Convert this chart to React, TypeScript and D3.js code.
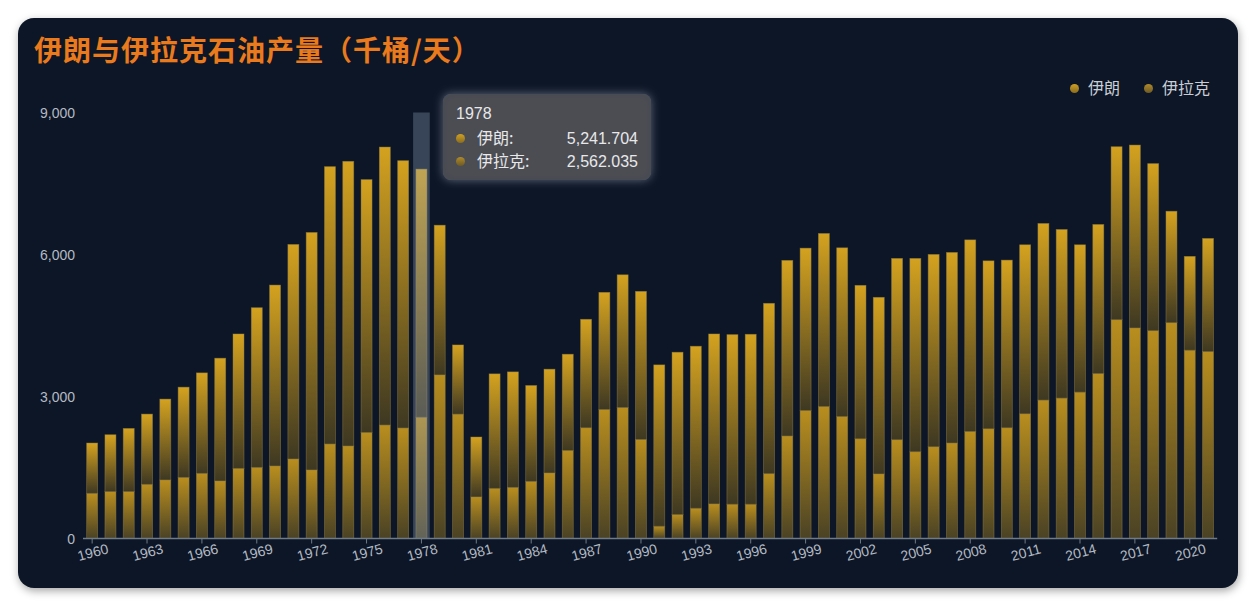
import * as d3 from "d3";

// 1960 - 2021
const years = d3.range(1960, 2022).map(String);

const iran = [
  1062, 1201, 1334, 1483, 1708, 1905, 2122, 2593, 2839, 3373,
  3822, 4532, 5017, 5860, 6014, 5341, 5873, 5648, 5241.704, 3162,
  1461, 1265, 2418, 2439, 2024, 2192, 2032, 2291, 2474, 2803,
  3128, 3409, 3429, 3423, 3590, 3583, 3590, 3598, 3710, 3429,
  3655, 3563, 3240, 3731, 3830, 4083, 4062, 4026, 4047, 3547,
  3541, 3570, 3731, 3562, 3113, 3149, 3654, 3864, 3529, 2354,
  1982, 2390,
];

const iraq = [
  955, 991, 991, 1145, 1237, 1292, 1377, 1216, 1482, 1503,
  1532, 1680, 1448, 1996, 1954, 2241, 2397, 2334, 2562.035, 3457,
  2628, 879, 1060, 1081, 1208, 1385, 1861, 2340, 2726, 2768,
  2093, 259, 506, 639, 731, 724, 724, 1370, 2165, 2705,
  2789, 2578, 2108, 1364, 2087, 1834, 1939, 2017, 2262, 2319,
  2340, 2635, 2924, 2966, 3092, 3485, 4623, 4448, 4391, 4560,
  3978, 3949,
];

const tickYears = [
  "1960", "1963", "1966", "1969", "1972", "1975", "1978", "1981", "1984",
  "1987", "1990", "1993", "1996", "1999", "2002", "2005", "2008", "2011",
  "2014", "2017", "2020",
];
const yTicks = [0, 3000, 6000, 9000];
const seriesNames = ["伊朗", "伊拉克"];
const hoverYear = "1978";

const W = 1256;
const H = 606;
const latin = "'Liberation Sans', Arial, 'Noto Sans CJK SC', sans-serif";
const cjk = "'Noto Sans CJK SC', 'Liberation Sans', sans-serif";

export default function App() {
  const x = d3
    .scaleBand<string>()
    .domain(years)
    .range([83, 1217.2])
    .paddingInner(0.4)
    .paddingOuter(0.2);
  const y = d3.scaleLinear().domain([0, 9000]).range([538.5, 112.5]);

  const rows = years.map((yr, i) => ({ year: yr, iraq: iraq[i], iran: iran[i] }));
  const stacked = d3.stack<(typeof rows)[number]>().keys(["iraq", "iran"])(rows);
  const grad: Record<string, string> = { iraq: "url(#gIraq)", iran: "url(#gIran)" };

  const fmt = d3.format(",.3f");
  const hi = years.indexOf(hoverYear);
  const hx = x(hoverYear)! + x.bandwidth() / 2;
  const step = x.step();

  return (
    <svg
      width={W}
      height={H}
      style={{ position: "absolute", left: 0, top: 0, display: "block" }}
    >
      <defs>
        <linearGradient id="gIran" x1="0" y1="0" x2="0" y2="1">
          <stop offset="0" stopColor="#d4a21f" />
          <stop offset="1" stopColor="#3e3822" />
        </linearGradient>
        <linearGradient id="gIraq" x1="0" y1="0" x2="0" y2="1">
          <stop offset="0" stopColor="#b98e1e" />
          <stop offset="1" stopColor="#4a4225" />
        </linearGradient>
        <linearGradient id="gDot1" x1="0" y1="0" x2="0" y2="1">
          <stop offset="0" stopColor="#d0a024" />
          <stop offset="1" stopColor="#8a6c1e" />
        </linearGradient>
        <linearGradient id="gDot2" x1="0" y1="0" x2="0" y2="1">
          <stop offset="0" stopColor="#b08a2a" />
          <stop offset="1" stopColor="#6d5a25" />
        </linearGradient>
        <filter id="cardShadow" x="-5%" y="-5%" width="110%" height="115%">
          <feDropShadow dx="1" dy="3" stdDeviation="4" floodColor="#000" floodOpacity="0.35" />
        </filter>
        <filter id="glow" x="-20%" y="-30%" width="140%" height="160%">
          <feDropShadow dx="0" dy="0" stdDeviation="5" floodColor="#c8d4e6" floodOpacity="0.45" />
        </filter>
      </defs>

      <rect x={0} y={0} width={W} height={H} fill="#ffffff" />
      <rect
        x={18}
        y={18}
        width={1220}
        height={570}
        rx={16}
        fill="#0b1826"
        filter="url(#cardShadow)"
      />

      <text
        x={34}
        y={61}
        fill="#ea7a1c"
        fontSize={28}
        fontWeight={600}
        letterSpacing={1}
        fontFamily={cjk}
      >
        伊朗与伊拉克石油产量（千桶/天）
      </text>

      {/* legend */}
      <g fontFamily={cjk} fontSize={16} fill="#c9ced6">
        <circle cx={1074.5} cy={88.5} r={4.5} fill="url(#gDot1)" />
        <text x={1088} y={94}>{seriesNames[0]}</text>
        <circle cx={1148.5} cy={88.5} r={4.5} fill="url(#gDot2)" />
        <text x={1162} y={94}>{seriesNames[1]}</text>
      </g>

      {/* y axis labels */}
      {yTicks.map((t) => (
        <text
          key={t}
          x={75}
          y={y(t) + 5}
          textAnchor="end"
          fontSize={14}
          fontFamily={latin}
          fill="#b3bac4"
        >
          {d3.format(",")(t)}
        </text>
      ))}

      {/* bars */}
      {stacked.map((s) => (
        <g key={s.key}>
          {s.map((d, i) => (
            <rect
              key={years[i]}
              x={x(years[i])}
              y={y(d[1])}
              width={x.bandwidth()}
              height={y(d[0]) - y(d[1])}
              fill={grad[s.key]}
              stroke="rgba(150,130,70,0.55)"
              strokeWidth={0.8}
            />
          ))}
        </g>
      ))}

      {/* axis pointer shadow */}
      <rect
        x={hx - step * 0.455}
        y={y(9000)}
        width={step * 0.91}
        height={y(0) - y(9000)}
        fill="rgba(150,168,195,0.32)"
      />

      {/* x axis */}
      <line x1={83} x2={1217.2} y1={y(0)} y2={y(0)} stroke="#6f7a87" strokeWidth={1.5} />
      {tickYears.map((t) => {
        const cx = x(t)! + x.bandwidth() / 2;
        return (
          <g key={t}>
            <line x1={cx} x2={cx} y1={y(0)} y2={y(0) + 5} stroke="#6f7a87" />
            <text
              transform={`translate(${cx + 2},${557}) rotate(-15)`}
              textAnchor="middle"
              fontSize={14}
              fontFamily={latin}
              fill="#b3bac4"
            >
              {t}
            </text>
          </g>
        );
      })}

      {/* tooltip */}
      <g>
        <rect
          x={443}
          y={94}
          width={208}
          height={86}
          rx={8}
          fill="rgba(72,73,79,0.97)"
          filter="url(#glow)"
        />
        <text x={456} y={119} fontSize={16} fontFamily={latin} fill="#e8e8ea">
          {hoverYear}
        </text>
        {[iran[hi], iraq[hi]].map((v, k) => (
          <g key={k}>
            <circle cx={460.5} cy={138.5 + k * 23} r={4.5} fill={k === 0 ? "url(#gDot1)" : "url(#gDot2)"} />
            <text x={477} y={144 + k * 23} fontSize={16} fontFamily={cjk} fill="#e8e8ea">
              {seriesNames[k]}:
            </text>
            <text
              x={638}
              y={144 + k * 23}
              textAnchor="end"
              fontSize={16}
              fontFamily={latin}
              fill="#e8e8ea"
            >
              {fmt(v)}
            </text>
          </g>
        ))}
      </g>
    </svg>
  );
}
